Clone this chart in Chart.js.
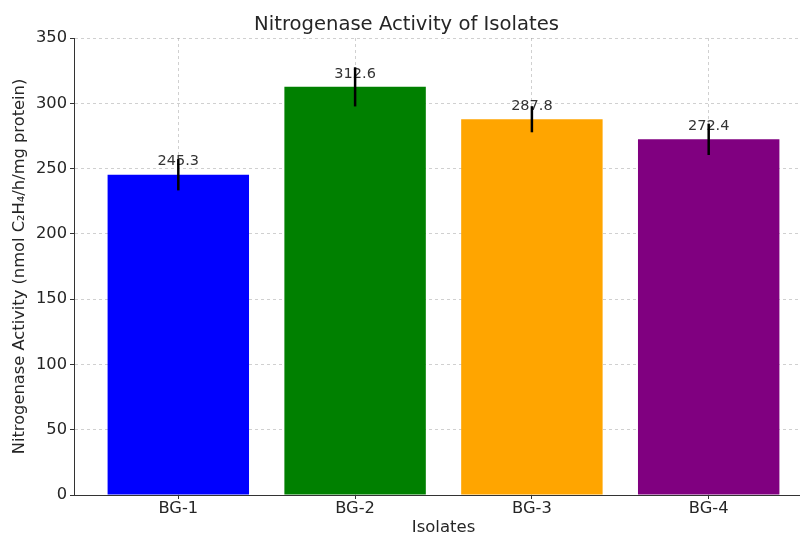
<!DOCTYPE html>
<html>
<head>
<meta charset="utf-8">
<script src="https://cdn.jsdelivr.net/npm/chart.js@4.4.0/dist/chart.umd.min.js"></script>
<style>
  html, body { margin: 0; padding: 0; background: #fff; overflow: hidden; }
  #wrap { width: 830px; height: 545px; }
</style>
</head>
<body>
<div id="wrap"><canvas id="barchart" width="830" height="545"></canvas></div>
<script>
const categories = ['BG-1', 'BG-2', 'BG-3', 'BG-4'];
const activity = [245.3, 312.6, 287.8, 272.4];
const errors = [12, 15, 10, 12];
const barColors = ['#0000ff', '#008000', '#ffa500', '#800080'];
const yTicks = [0, 50, 100, 150, 200, 250, 300, 350];

const textColor = '#262626';
const fontFamily = "'DejaVu Sans', sans-serif";

// value labels, then error bars drawn over them (same order as the original)
const barExtras = {
    id: 'barExtras',
    afterDatasetsDraw(chart) {
        const ctx = chart.ctx;
        const y = chart.scales.y;
        const meta = chart.getDatasetMeta(0);
        ctx.save();
        ctx.font = '14.5px ' + fontFamily;
        ctx.fillStyle = '#333333';
        ctx.textAlign = 'center';
        ctx.textBaseline = 'middle';
        meta.data.forEach(function(bar, i) {
            ctx.fillText(activity[i].toFixed(1), bar.x, y.getPixelForValue(activity[i] + 10));
        });
        ctx.strokeStyle = '#000';
        ctx.lineWidth = 2.5;
        meta.data.forEach(function(bar, i) {
            ctx.beginPath();
            ctx.moveTo(bar.x, y.getPixelForValue(activity[i] - errors[i]));
            ctx.lineTo(bar.x, y.getPixelForValue(activity[i] + errors[i]));
            ctx.stroke();
        });
        ctx.restore();
    }
};

const gridOpts = {
    color: 'rgba(150,150,150,0.45)',
    offset: false,
    tickColor: '#333',
    tickBorderDash: [],
    tickLength: 4
};

const ctx = document.getElementById('barchart').getContext('2d');
new Chart(ctx, {
    type: 'bar',
    data: {
        datasets: [{
            label: 'Nitrogenase Activity',
            data: categories.map((c, i) => ({ x: i, y: activity[i] })),
            backgroundColor: barColors,
            borderWidth: 0,
            barPercentage: 0.8,
            categoryPercentage: 1.0
        }]
    },
    options: {
        responsive: false,
        animation: false,
        layout: { padding: { left: 0, right: 17, top: 0, bottom: 0 } },
        plugins: {
            legend: { display: false },
            tooltip: { enabled: false },
            title: {
                display: true,
                text: 'Nitrogenase Activity of Isolates',
                color: textColor,
                font: { family: fontFamily, size: 19.6, weight: 'normal' },
                padding: { top: 13.5, bottom: 1 }
            }
        },
        scales: {
            x: {
                type: 'linear',
                min: -0.59,
                max: 3.59,
                offset: false,
                z: 1,
                afterBuildTicks: function(scale) {
                    scale.ticks = categories.map((c, i) => ({ value: i }));
                },
                afterFit: function(scale) { scale.height = 50; },
                ticks: {
                    autoSkip: false,
                    maxRotation: 0,
                    padding: 0,
                    color: textColor,
                    font: { family: fontFamily, size: 16.3 },
                    callback: function(v) { return categories[v]; }
                },
                grid: gridOpts,
                border: { display: true, color: '#333', width: 1, dash: [3, 3] },
                title: {
                    display: true,
                    text: 'Isolates',
                    color: textColor,
                    font: { family: fontFamily, size: 16.5 },
                    padding: { top: 0, bottom: 7 }
                }
            },
            y: {
                min: 0,
                max: 350,
                z: 1,
                afterBuildTicks: function(scale) {
                    scale.ticks = yTicks.map(v => ({ value: v }));
                },
                afterFit: function(scale) { scale.width = 74; },
                ticks: {
                    padding: 3,
                    color: textColor,
                    font: { family: fontFamily, size: 16.3 }
                },
                grid: gridOpts,
                border: { display: true, color: '#333', width: 1, dash: [3, 3] },
                title: {
                    display: true,
                    text: 'Nitrogenase Activity (nmol C₂H₄/h/mg protein)',
                    color: textColor,
                    font: { family: fontFamily, size: 16.3 },
                    padding: { top: 9.5, bottom: 0 }
                }
            }
        }
    },
    plugins: [barExtras]
});
</script>
</body>
</html>
